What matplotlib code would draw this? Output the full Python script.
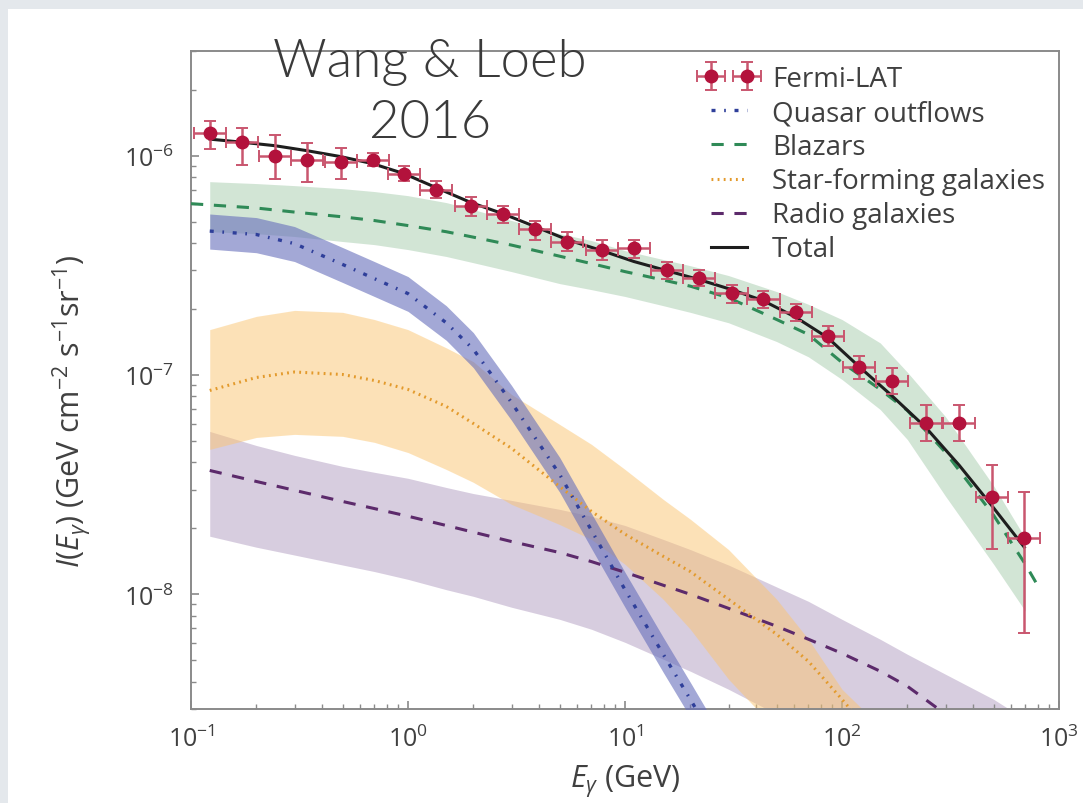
import numpy as np
import matplotlib
matplotlib.use("Agg")
import matplotlib.pyplot as plt
from matplotlib.patches import Rectangle

# ---------------- data ----------------
# Fermi-LAT points
fermi_E = [0.1224, 0.1713, 0.2438, 0.3414, 0.4896, 0.6877, 0.9585, 1.346, 1.951, 2.732,
           3.848, 5.42, 7.81, 11.0, 15.57, 22.0, 31.0, 43.4, 61.4, 85.9,
           120.1, 169.4, 243.0, 347.2, 489.7, 692.0]
fermi_I = [1.27e-6, 1.15e-6, 1.00e-6, 9.52e-7, 9.32e-7, 9.52e-7, 8.25e-7, 7.00e-7, 5.92e-7, 5.44e-7,
           4.63e-7, 4.06e-7, 3.73e-7, 3.78e-7, 3.00e-7, 2.77e-7, 2.37e-7, 2.21e-7, 1.93e-7, 1.51e-7,
           1.09e-7, 9.37e-8, 6.05e-8, 6.05e-8, 2.77e-8, 1.80e-8]
fermi_hi = [1.433e-6, 1.337e-6, 1.246e-6, 1.143e-6, 1.084e-6, 1.029e-6, 8.94e-7, 7.64e-7, 6.48e-7, 5.87e-7,
            5.02e-7, 4.47e-7, 4.14e-7, 4.14e-7, 3.27e-7, 3.00e-7, 2.56e-7, 2.41e-7, 2.10e-7, 1.68e-7,
            1.22e-7, 1.08e-7, 7.28e-8, 7.28e-8, 3.88e-8, 2.92e-8]
fermi_lo = [1.073e-6, 9.10e-7, 7.86e-7, 7.56e-7, 7.86e-7, 8.94e-7, 7.64e-7, 6.42e-7, 5.33e-7, 4.93e-7,
            4.14e-7, 3.66e-7, 3.36e-7, 3.42e-7, 2.74e-7, 2.54e-7, 2.13e-7, 2.02e-7, 1.76e-7, 1.36e-7,
            9.54e-8, 8.15e-8, 4.99e-8, 4.99e-8, 1.61e-8, 6.69e-9]

# Total model (evaluated at the Fermi energies)
total_I = [1.189e-6, 1.152e-6, 1.110e-6, 1.054e-6, 9.90e-7, 9.19e-7, 8.28e-7, 7.15e-7, 6.11e-7, 5.44e-7,
           4.75e-7, 4.14e-7, 3.69e-7, 3.29e-7, 2.99e-7, 2.72e-7, 2.45e-7, 2.18e-7, 1.83e-7, 1.48e-7,
           1.09e-7, 8.06e-8, 5.77e-8, 3.87e-8, 2.54e-8, 1.64e-8]

# common energy grid for model components
grid_E = [0.122, 0.2, 0.3, 0.5, 0.7, 1.0, 1.5, 2.0, 3.0, 5.0, 7.0, 10.0, 15.0, 20.0, 30.0,
          50.0, 70.0, 100.0, 150.0, 200.0, 300.0, 500.0, 700.0]

# Blazars
blazar_E = [0.1] + grid_E + [792.0]
blazar_I = [6.04e-7, 5.96e-7, 5.77e-7, 5.53e-7, 5.26e-7, 5.06e-7, 4.80e-7, 4.50e-7, 4.25e-7, 3.91e-7,
            3.48e-7, 3.22e-7, 2.96e-7, 2.71e-7, 2.54e-7, 2.25e-7, 1.79e-7, 1.53e-7, 1.14e-7, 8.59e-8,
            6.89e-8, 4.43e-8, 2.29e-8, 1.37e-8, 1.11e-8]
blazar_hi = [7.61e-7, 7.46e-7, 7.30e-7, 7.07e-7, 6.86e-7, 6.57e-7, 6.11e-7, 5.68e-7, 5.06e-7, 4.41e-7,
             4.10e-7, 3.69e-7, 3.36e-7, 3.15e-7, 2.84e-7, 2.40e-7, 2.10e-7, 1.79e-7, 1.40e-7, 1.03e-7,
             6.45e-8, 3.12e-8, 1.80e-8]
blazar_lo = [4.50e-7, 4.41e-7, 4.28e-7, 4.06e-7, 3.93e-7, 3.73e-7, 3.47e-7, 3.25e-7, 2.96e-7, 2.61e-7,
             2.45e-7, 2.28e-7, 2.07e-7, 1.93e-7, 1.73e-7, 1.42e-7, 1.21e-7, 9.54e-8, 6.96e-8, 5.08e-8,
             2.80e-8, 1.37e-8, 8.37e-9]

# Quasar outflows
quasar_E = [0.122, 0.2, 0.3, 0.5, 0.7, 1.0, 1.5, 2.0, 3.0, 5.0, 7.0, 10.0, 15.0, 20.0, 30.0]
quasar_I = [4.53e-7, 4.37e-7, 3.97e-7, 3.19e-7, 2.75e-7, 2.35e-7, 1.73e-7, 1.31e-7, 7.49e-8, 3.52e-8,
            1.96e-8, 1.05e-8, 5.33e-9, 3.32e-9, 1.68e-9]
quasar_hi = [5.42e-7, 5.22e-7, 4.75e-7, 3.81e-7, 3.29e-7, 2.81e-7, 2.07e-7, 1.56e-7, 8.96e-8, 4.21e-8,
             2.34e-8, 1.26e-8, 6.37e-9, 3.97e-9, 2.01e-9]
quasar_lo = [3.75e-7, 3.61e-7, 3.29e-7, 2.64e-7, 2.28e-7, 1.95e-7, 1.44e-7, 1.08e-7, 6.21e-8, 2.92e-8,
             1.62e-8, 8.73e-9, 4.41e-9, 2.75e-9, 1.39e-9]

# Star-forming galaxies
sfg_E = [0.122, 0.2, 0.3, 0.5, 0.7, 1.0, 1.5, 2.0, 3.0, 5.0, 7.0, 10.0, 15.0, 20.0, 30.0,
         50.0, 70.0, 100.0, 150.0, 200.0]
sfg_I = [8.50e-8, 9.74e-8, 1.032e-7, 1.005e-7, 9.44e-8, 8.59e-8, 7.19e-8, 6.01e-8, 4.63e-8, 3.10e-8,
         2.39e-8, 1.88e-8, 1.49e-8, 1.27e-8, 9.49e-9, 6.57e-9, 4.95e-9, 3.32e-9, 2.07e-9, 1.5e-9]
sfg_hi = [1.61e-7, 1.85e-7, 1.97e-7, 1.93e-7, 1.79e-7, 1.61e-7, 1.33e-7, 1.15e-7, 8.15e-8, 5.95e-8,
          4.83e-8, 3.71e-8, 2.71e-8, 2.20e-8, 1.60e-8, 9.49e-9, 6.24e-9, 3.69e-9, 2.5e-9, 2.0e-9]
sfg_lo = [4.58e-8, 5.19e-8, 5.36e-8, 5.25e-8, 4.93e-8, 4.43e-8, 3.71e-8, 3.24e-8, 2.57e-8, 2.08e-8,
          1.78e-8, 1.37e-8, 9.49e-9, 6.93e-9, 4.10e-9, 2.4e-9, 1.8e-9, 1.3e-9, 1.0e-9, 8.0e-10]

# Radio galaxies
rg_E = grid_E
rg_I = [3.67e-8, 3.27e-8, 2.98e-8, 2.65e-8, 2.46e-8, 2.27e-8, 2.06e-8, 1.92e-8, 1.74e-8, 1.55e-8,
        1.41e-8, 1.26e-8, 1.10e-8, 1.00e-8, 8.63e-9, 7.15e-9, 6.24e-9, 5.38e-9, 4.46e-9, 3.81e-9,
        2.84e-9, 2.0e-9, 1.6e-9]
rg_hi = [5.53e-8, 4.77e-8, 4.30e-8, 3.83e-8, 3.60e-8, 3.38e-8, 3.07e-8, 2.88e-8, 2.68e-8, 2.44e-8,
         2.27e-8, 2.06e-8, 1.78e-8, 1.60e-8, 1.36e-8, 1.08e-8, 9.29e-9, 7.69e-9, 6.24e-9, 5.33e-9,
         4.32e-9, 3.32e-9, 2.69e-9]
rg_lo = [1.84e-8, 1.64e-8, 1.51e-8, 1.36e-8, 1.27e-8, 1.17e-8, 1.05e-8, 9.79e-9, 8.73e-9, 7.69e-9,
         6.93e-9, 6.04e-9, 5.06e-9, 4.46e-9, 3.69e-9, 2.84e-9, 2.2e-9, 1.7e-9, 1.3e-9, 1.0e-9,
         8.0e-10, 6.0e-10, 5.0e-10]

labels = ["Fermi-LAT", "Quasar outflows", "Blazars", "Star-forming galaxies", "Radio galaxies", "Total"]

# ---------------- styling ----------------
plt.rcParams['font.family'] = ['Open Sans', 'DejaVu Sans']
plt.rcParams['mathtext.fontset'] = 'custom'
plt.rcParams['mathtext.rm'] = 'Open Sans'
plt.rcParams['mathtext.sf'] = 'Open Sans'
plt.rcParams['mathtext.it'] = 'Open Sans:italic'
plt.rcParams['mathtext.bf'] = 'Open Sans:bold'

TXT = '#404040'

fig = plt.figure(figsize=(10.83, 8.04), dpi=100)
fig.patch.set_facecolor('#e4e8ec')
bg = Rectangle((8 / 1083, 0), 1, 1 - 10 / 804, transform=fig.transFigure,
               facecolor='white', edgecolor='none', zorder=-10)
fig.add_artist(bg)

ax = fig.add_axes([191 / 1083, 94 / 804, 868 / 1083, 658 / 804])
ax.set_zorder(5)
ax.set_facecolor('white')
ax.set_xscale('log')
ax.set_yscale('log')
ax.set_xlim(0.1, 1000)
ax.set_ylim(3e-9, 3e-6)

# bands
ax.fill_between(rg_E, rg_lo, rg_hi, color='#9d82b1', alpha=0.4, lw=0, zorder=1)
ax.fill_between(sfg_E, sfg_lo, sfg_hi, color='#fbc571', alpha=0.5, lw=0, zorder=2)
ax.fill_between(grid_E, blazar_lo, blazar_hi, color='#8fbf98', alpha=0.4, lw=0, zorder=3)
ax.fill_between(quasar_E, quasar_lo, quasar_hi, color='#666ebb', alpha=0.6, lw=0, zorder=4)

# lines
l_rg, = ax.plot(rg_E, rg_I, color='#5c2a6b', lw=2.2, ls=(0, (4, 3.5)), zorder=5)
l_sfg, = ax.plot(sfg_E, sfg_I, color='#e39a2c', lw=2.2, ls=(0, (0.6, 1.4)), zorder=5)
l_q, = ax.plot(quasar_E, quasar_I, color='#2f3f9a', lw=2.4, ls=(0, (1.2, 2.6, 0.5, 2.6)), zorder=6)
l_bl, = ax.plot(blazar_E, blazar_I, color='#2f8a57', lw=2.2, ls=(0, (4, 3.5)), zorder=6)
l_tot, = ax.plot(fermi_E, total_I, color='#1e1e1e', lw=2.2, zorder=7)

xerr_dex = 0.0745
E = np.array(fermi_E)
I = np.array(fermi_I)
xerr = [E - E / 10 ** xerr_dex, E * 10 ** xerr_dex - E]
yerr = [I - np.array(fermi_lo), np.array(fermi_hi) - I]
eb = ax.errorbar(E, I, xerr=xerr, yerr=yerr, fmt='o', color='#b3123c', ms=9,
                 ecolor='#c9566f', elinewidth=1.8, capsize=4, capthick=1.4, zorder=8)

# axes style
for s in ax.spines.values():
    s.set_color('#8a8a8a')
    s.set_linewidth(1.4)
ax.tick_params(which='both', direction='in', colors='#8a8a8a', labelcolor=TXT,
               labelsize=18, top=False, right=False)
ax.tick_params(which='major', length=6, width=1.2, pad=12)
ax.tick_params(which='minor', length=3.5, width=1.0)

ax.set_xlabel(r'$E_\gamma$ (GeV)', fontsize=22, color=TXT, labelpad=8)
ax.set_ylabel(r'$I(E_\gamma)$ (GeV cm$^{-2}$ s$^{-1}$sr$^{-1}$)', fontsize=22, color=TXT)
ax.yaxis.set_label_coords(-0.113, 0.455)

leg = ax.legend([eb, l_q, l_bl, l_sfg, l_rg, l_tot], labels, loc='upper right',
                bbox_to_anchor=(1.0, 1.0), frameon=False, fontsize=20, numpoints=2,
                handlelength=1.9, handletextpad=0.6, labelspacing=0.22, borderaxespad=0.1)
for t in leg.get_texts():
    t.set_color(TXT)

fig.text(430 / 1083, 1 - 63 / 804, 'Wang & Loeb', fontsize=38, family='Lato', fontweight=350,
         color='#3a3a3a', ha='center', va='center', zorder=20)
fig.text(430 / 1083, 1 - 123 / 804, '2016', fontsize=38, family='Lato', fontweight=350,
         color='#3a3a3a', ha='center', va='center', zorder=20)

fig.savefig('out.png', dpi=100, facecolor=fig.get_facecolor())
